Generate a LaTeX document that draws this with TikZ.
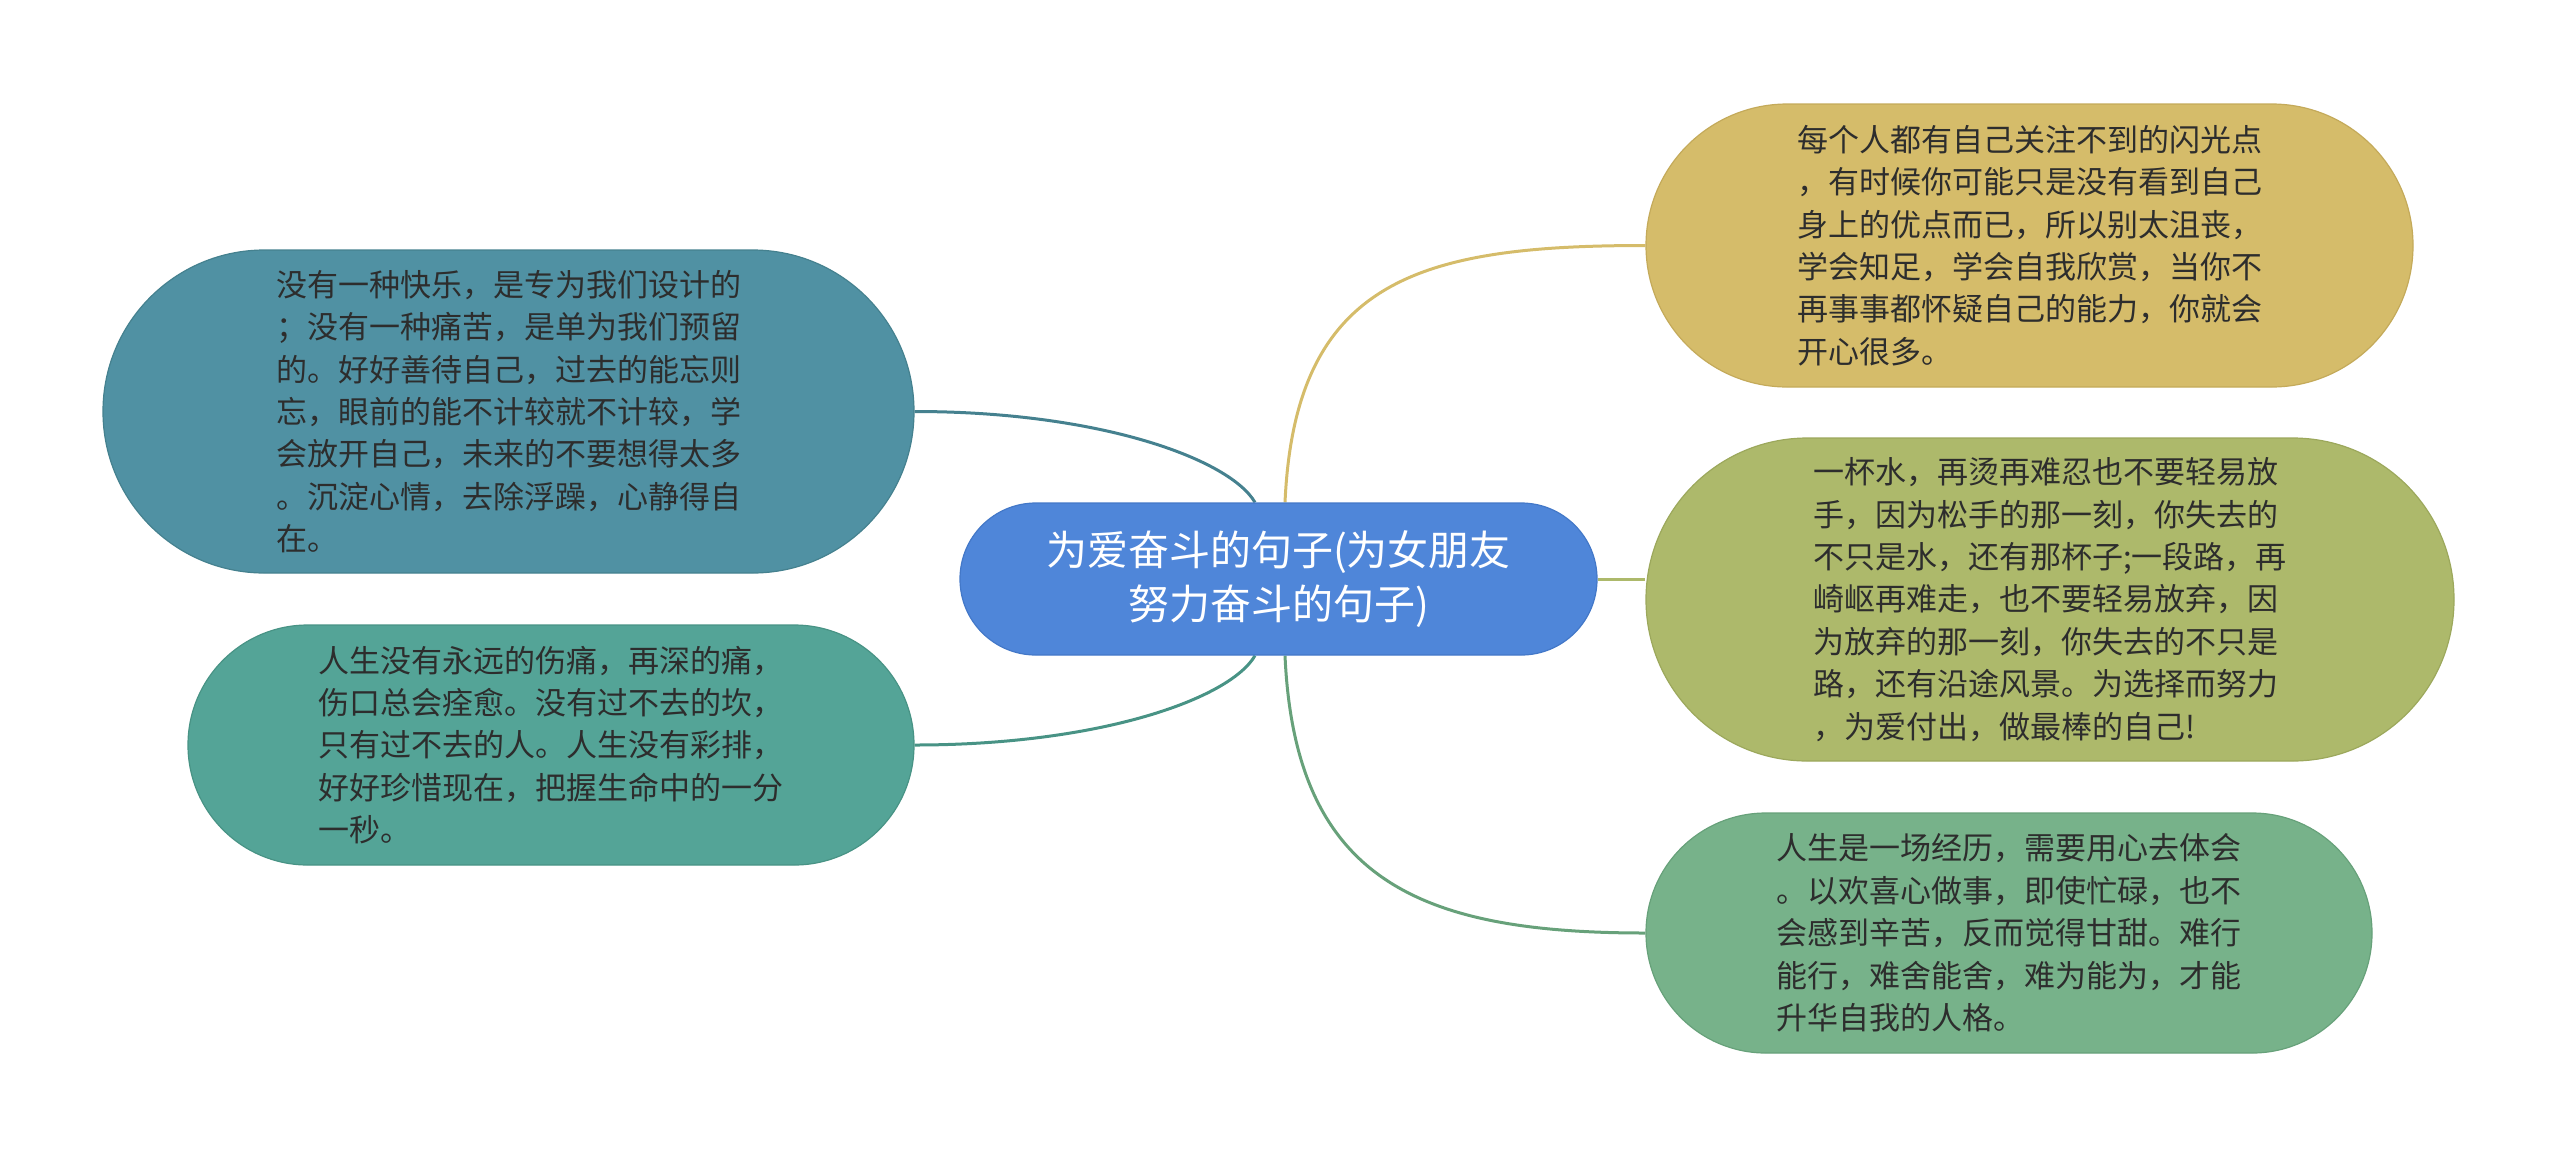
\documentclass[tikz,border=0pt]{standalone}
\usepackage{fontspec}
\setmainfont{Noto Sans CJK SC}
\usetikzlibrary{calc,backgrounds}
\definecolor{cblue}{HTML}{4F86D9}
\definecolor{cblueb}{HTML}{4378C8}
\definecolor{cteal}{HTML}{5091A3}
\definecolor{ctealb}{HTML}{45818F}
\definecolor{cmint}{HTML}{54A497}
\definecolor{cmintb}{HTML}{489385}
\definecolor{cgold}{HTML}{D5BC6A}
\definecolor{cgoldb}{HTML}{C4AA5A}
\definecolor{colive}{HTML}{ADB96B}
\definecolor{coliveb}{HTML}{9CA85C}
\definecolor{cgreen}{HTML}{77B28A}
\definecolor{cgreenb}{HTML}{67A17A}
\definecolor{ctext}{HTML}{2D2D2D}
\begin{document}
\begin{tikzpicture}[x=0.5pt,y=-0.5pt,
  pill/.style n args={4}{rectangle, rounded corners=#2*0.25pt-0.05pt,
    minimum width=#1*0.5pt, minimum height=#2*0.5pt, inner sep=0pt,
    fill=#3, draw=#4, line width=0.6pt},
  leaf/.style={text=ctext, align=left, font=\fontsize{15.5pt}{21.2pt}\selectfont},
  conn/.style={line width=1.5pt}]
\useasboundingbox (0,0) rectangle (2560,1158);

\node[pill={637}{152}{cblue}{cblueb}, text=white, align=center,
  font=\fontsize{20.5pt}{27pt}\selectfont] (c) at (1278.5,579)
  {为爱奋斗的句子(为女朋友\\努力奋斗的句子)};

\node[pill={811}{323}{cteal}{ctealb}, leaf] (lt) at (508.5,411.5)
  {没有一种快乐，是专为我们设计的\\；没有一种痛苦，是单为我们预留\\的。好好善待自己，过去的能忘则\\忘，眼前的能不计较就不计较，学\\会放开自己，未来的不要想得太多\\。沉淀心情，去除浮躁，心静得自\\在。};

\node[pill={726}{240}{cmint}{cmintb}, leaf] (lb) at (551,745)
  {人生没有永远的伤痛，再深的痛，\\伤口总会痊愈。没有过不去的坎，\\只有过不去的人。人生没有彩排，\\好好珍惜现在，把握生命中的一分\\一秒。};

\node[pill={767}{283}{cgold}{cgoldb}, leaf] (rt) at (2029.5,245.5)
  {每个人都有自己关注不到的闪光点\\，有时候你可能只是没有看到自己\\身上的优点而已，所以别太沮丧，\\学会知足，学会自我欣赏，当你不\\再事事都怀疑自己的能力，你就会\\开心很多。};

\node[pill={808}{323}{colive}{coliveb}, leaf] (rm) at (2050,599.5)
  {一杯水，再烫再难忍也不要轻易放\\手，因为松手的那一刻，你失去的\\不只是水，还有那杯子;一段路，再\\崎岖再难走，也不要轻易放弃，因\\为放弃的那一刻，你失去的不只是\\路，还有沿途风景。为选择而努力\\，为爱付出，做最棒的自己!};

\node[pill={726}{240}{cgreen}{cgreenb}, leaf] (rb) at (2009,933)
  {人生是一场经历，需要用心去体会\\。以欢喜心做事，即使忙碌，也不\\会感到辛苦，反而觉得甘甜。难行\\能行，难舍能舍，难为能为，才能\\升华自我的人格。};

\coordinate (cnl) at ($(c.north)+(-23.5,0)$);
\coordinate (csl) at ($(c.south)+(-23.5,0)$);
\coordinate (cnr) at ($(c.north)+(6.5,0)$);
\coordinate (csr) at ($(c.south)+(6.5,0)$);

\begin{scope}[on background layer]
\draw[conn, draw=ctealb] (lt.east) .. controls +(186,0) and +(-25,-43) .. (cnl);
\draw[conn, draw=cmintb] (lb.east) .. controls +(186,0) and +(-25,43) .. (csl);
\draw[conn, draw=cgold] (cnr) .. controls +(10,-223) and +(-226,0) .. (rt.west);
\draw[conn, draw=colive] (c.east) -- (c.east -| rm.west);
\draw[conn, draw=cgreenb] (csr) .. controls +(10,225) and +(-226,0) .. (rb.west);
\end{scope}
\end{tikzpicture}
\end{document}
